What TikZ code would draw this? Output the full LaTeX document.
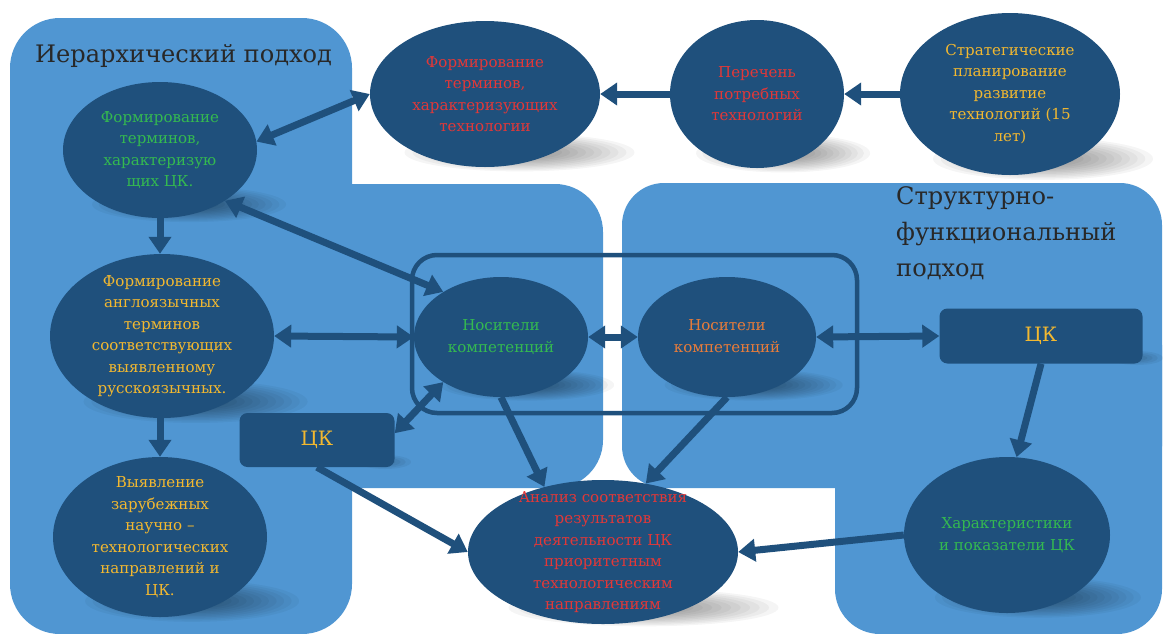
\documentclass[tikz,border=0pt]{standalone}
\usepackage{fontspec}
\setmainfont{DejaVu Serif}[Scale=0.86]
\usetikzlibrary{arrows.meta,shapes.geometric,calc}

\definecolor{zoneblue}{RGB}{80,150,210}
\definecolor{nodeblue}{RGB}{31,80,124}
\definecolor{txtgreen}{RGB}{52,185,80}
\definecolor{txtred}{RGB}{226,56,56}
\definecolor{txtyellow}{RGB}{242,184,48}
\definecolor{txtorange}{RGB}{232,124,58}
\definecolor{titlegray}{RGB}{40,40,40}

% soft drop shadow under an oval: centre x, centre y, x radius, y radius
\newcommand{\dropshade}[4]{%
  \foreach \s in {1.0,0.93,0.86,0.79,0.72,0.65,0.58,0.51,0.44,0.37,0.30}{%
    \fill[black,opacity=0.04] ({#1+0.3*#3},{#2+0.8*#4})
      ellipse [x radius={\s*#3}, y radius={\s*0.26*#4}];}}

\begin{document}
\begin{tikzpicture}[x=1pt,y=-1pt,
  >={Triangle[length=17pt,width=22pt]},
  oval/.style={ellipse, fill=nodeblue, inner sep=0pt},
  ovaltext/.style={align=center, font=\fontsize{17.5}{21.5}\selectfont, inner sep=0pt},
  box/.style={rectangle, rounded corners=8, fill=nodeblue, inner sep=0pt,
    font=\fontsize{23}{26}\selectfont, text=txtyellow},
  link/.style={draw=nodeblue, line width=7},
  zonetitle/.style={font=\fontsize{28}{36}\selectfont, text=titlegray, inner sep=0pt},
  frame/.style={draw=nodeblue, line width=4.5, rounded corners=25}]
\useasboundingbox (0,0) rectangle (1165,633);

% background zones
\fill[zoneblue, rounded corners=50] (10,18) rectangle (352,634);
\fill[zoneblue, rounded corners=48] (300,184) rectangle (603,488);
\fill[zoneblue, rounded corners=42] (622,183) rectangle (1162,488);
\fill[zoneblue, rounded corners=45] (835,300) rectangle (1162,634);

% zone titles
\node[zonetitle, anchor=base west] (hier) at (35,62) {Иерархический подход};
\node[zonetitle, anchor=north west, align=left] (struct) at (896,186)
  {Структурно-\\функциональный\\подход};

% shadows
\dropshade{160}{150}{97}{68}
\dropshade{485}{94}{115}{73}
\dropshade{757}{94}{87}{74}
\dropshade{1010}{94}{110}{81}
\dropshade{162}{336}{112}{82}
\dropshade{160}{537}{107}{80}
\dropshade{501}{337}{87}{60}
\dropshade{727}{337}{89}{60}
\dropshade{1007}{535}{103}{78}
\dropshade{603}{550}{135}{72}
\foreach \s in {1.0,0.8,0.6,0.4}{%
  \fill[black,opacity=0.05] (385,462) ellipse [x radius={\s*26}, y radius={\s*7}];
  \fill[black,opacity=0.05] (1137,358) ellipse [x radius={\s*26}, y radius={\s*7}];}

% group frame around the competence carriers
\draw[frame] (412,255) rectangle (857,413);

% nodes
\node[oval, minimum width=194, minimum height=136,
  label={[ovaltext,text=txtgreen]center:{Формирование\\терминов,\\характеризую\\щих ЦК.}}]
  (A) at (160,150) {};
\node[oval, minimum width=230, minimum height=146,
  label={[ovaltext,text=txtred]center:{Формирование\\терминов,\\характеризующих\\технологии}}]
  (B) at (485,94) {};
\node[oval, minimum width=174, minimum height=148,
  label={[ovaltext,text=txtred]center:{Перечень\\потребных\\технологий}}]
  (C) at (757,94) {};
\node[oval, minimum width=220, minimum height=162,
  label={[ovaltext,text=txtyellow]center:{Стратегические\\планирование\\развитие\\технологий (15\\лет)}}]
  (D) at (1010,94) {};
\node[oval, minimum width=224, minimum height=164,
  label={[ovaltext,text=txtyellow]center:{Формирование\\англоязычных\\терминов\\соответствующих\\выявленному\\русскоязычных.}}]
  (E) at (162,336) {};
\node[oval, minimum width=214, minimum height=160,
  label={[ovaltext,text=txtyellow]center:{Выявление\\зарубежных\\научно –\\технологических\\направлений и\\ЦК.}}]
  (F) at (160,537) {};
\node[box, minimum width=155, minimum height=54] (G) at (317,440) {ЦК};
\node[oval, minimum width=174, minimum height=120,
  label={[ovaltext,text=txtgreen]center:{Носители\\компетенций}}]
  (H) at (501,337) {};
\node[oval, minimum width=178, minimum height=120,
  label={[ovaltext,text=txtorange]center:{Носители\\компетенций}}]
  (I) at (727,337) {};
\node[box, minimum width=203, minimum height=55] (J) at (1041,336) {ЦК};
\node[oval, minimum width=206, minimum height=156,
  label={[ovaltext,text=txtgreen]center:{Характеристики\\и показатели ЦК}}]
  (K) at (1007,535) {};
\node[oval, minimum width=270, minimum height=144,
  label={[ovaltext,text=txtred]center:{Анализ соответствия\\результатов\\деятельности ЦК\\приоритетным\\технологическим\\направлениям}}]
  (L) at (603,552) {};

% connectors
\draw[link,<->] (A.5) -- (B.180);
\draw[link,->] (C.west) -- (B.east);
\draw[link,->] (D.west) -- (C.east);
\draw[link,<->] (A.-38) -- (H.142);
\draw[link,->] (A.south) -- (A.south |- E.north);
\draw[link,->] (E.south -| F.north) -- (F.north);
\draw[link,<->] (E.east) -- (H.west);
\draw[link,<->] (H.218) -- (G.5);
\draw[link,<->] (H.east) -- (I.west);
\draw[link,<->] (I.east) -- (J.west);
\draw[link,->] (J.south) -- (K.83);
\draw[link,->] (K.west) -- (L.east);
\draw[link,->] (G.south) -- (L.west);
\draw[link,->] (H.south) -- (L.132);
\draw[link,->] (I.south) -- (L.58);
\end{tikzpicture}
\end{document}
